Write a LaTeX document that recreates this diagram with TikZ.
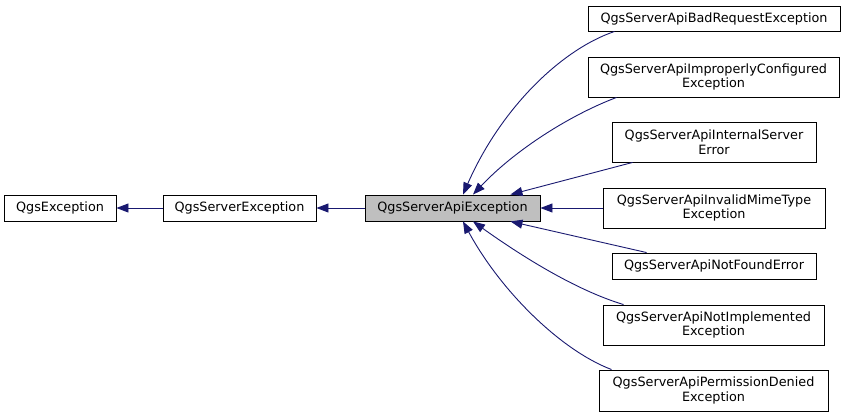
\documentclass[tikz,border=0pt]{standalone}
\usepackage{fontspec}
\setmainfont{DejaVu Sans}
\usetikzlibrary{arrows.meta}
\definecolor{edgeblue}{HTML}{191970}
\definecolor{apigray}{HTML}{BFBFBF}
\begin{document}
\begin{tikzpicture}[x=1pt,y=-1pt,
  box/.style={draw=black, line width=0.9pt, fill=white, inner sep=0pt, align=center,
    font=\fontsize{12.8}{14.5}\selectfont},
  edge/.style={draw=edgeblue, line width=0.9pt, -{Triangle[length=12pt,width=9pt]}}]
\useasboundingbox (0,0) rectangle (845,417);
\node[box, minimum width=112pt, minimum height=26pt] (ex) at (60,208) {QgsException};
\node[box, minimum width=153pt, minimum height=26pt] (se) at (239.5,208) {QgsServerException};
\node[box, fill=apigray, minimum width=175pt, minimum height=26pt] (api) at (452.5,208) {QgsServerApiException};
\node[box, minimum width=252pt, minimum height=25pt] (br) at (714,18.5) {QgsServerApiBadRequestException};
\node[box, minimum width=251pt, minimum height=40pt] (ic) at (713.5,77) {QgsServerApiImproperlyConfigured\\Exception};
\node[box, minimum width=204pt, minimum height=40pt] (is) at (714,142) {QgsServerApiInternalServer\\Error};
\node[box, minimum width=222pt, minimum height=40pt] (im) at (714,208) {QgsServerApiInvalidMimeType\\Exception};
\node[box, minimum width=204pt, minimum height=26pt] (nf) at (714,266) {QgsServerApiNotFoundError};
\node[box, minimum width=221pt, minimum height=40pt] (ni) at (713.5,325) {QgsServerApiNotImplemented\\Exception};
\node[box, minimum width=229pt, minimum height=41pt] (pd) at (713.5,390.5) {QgsServerApiPermissionDenied\\Exception};

\draw[edge] (se.west) -- (ex.east);
\draw[edge] (api.west) -- (se.east);
\draw[edge] ([xshift=27pt]br.south west) .. controls (560,50) and (500,110) .. ([xshift=10.5pt]api.north);
\draw[edge] ([xshift=29pt]ic.south west) .. controls (570,115) and (515,150) .. ([xshift=20.5pt]api.north);
\draw[edge] ([xshift=21pt]is.south west) -- ([xshift=-30pt]api.north east);
\draw[edge] (im.west) -- (api.east);
\draw[edge] ([xshift=35pt]nf.north west) -- ([xshift=-30pt]api.south east);
\draw[edge] ([xshift=21pt]ni.north west) .. controls (575,290) and (520,255) .. ([xshift=20.5pt]api.south);
\draw[edge] ([xshift=13pt]pd.north west) .. controls (560,350) and (500,290) .. ([xshift=10.5pt]api.south);
\end{tikzpicture}
\end{document}
